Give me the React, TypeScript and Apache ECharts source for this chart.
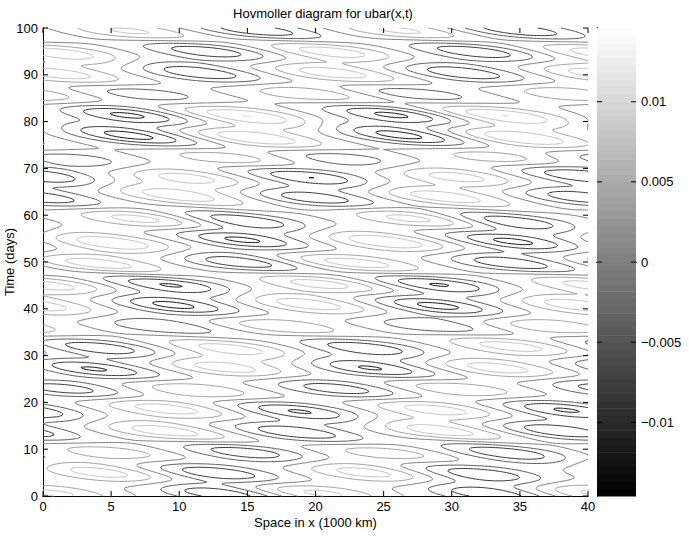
import React, { useEffect, useRef } from "react";
import * as echarts from "echarts";

// ---------- axes / ticks ----------
const xTicks = [0, 5, 10, 15, 20, 25, 30, 35, 40];
const timeTicks = [0, 10, 20, 30, 40, 50, 60, 70, 80, 90, 100];
const colorbarTicks = [-0.01, -0.005, 0, 0.005, 0.01];
const colorLimits = [-0.0146, 0.0146];
const contourLevels = [-0.012, -0.008, -0.004, 0, 0.004, 0.008, 0.012];

// ---------- extrema ----------
// negative centres (dark contours): x (1000 km), t (days), amplitude
const troughX = [17.5, 37.5, 15.5, 34.8, 12.0, 31.7, 11.5, 30.8, 7.5, 27.5, 6.2, 25.6, 6.4, 26.2, 2.5, 22.3, 19.5, 39.4, 20.0, 39.6, 15.0, 34.7, 14.5, 34.5, 14.2, 34.2, 9.4, 29.0, 9.5, 29.0, 8.5, 28.3, 4.4, 23.8, 3.8, 24.0, 1.6, 21.6, 18.8, 38.3, 18.7, 37.9, 15.0, 34.2, 13.0, 32.6, 13.0, 32.7, 11.0, 31.0];
const troughT = [104.0, 104.0, 99.6, 99.6, 95.1, 95.0, 90.4, 90.4, 85.9, 85.9, 81.4, 81.5, 77.0, 77.1, 71.8, 72.0, 68.2, 68.6, 63.6, 63.8, 58.7, 58.5, 54.8, 54.4, 50.0, 49.8, 45.1, 45.2, 40.8, 40.6, 36.3, 36.4, 31.6, 31.6, 27.1, 27.3, 22.9, 22.9, 18.1, 18.4, 13.5, 13.9, 9.3, 9.2, 4.8, 4.5, 0.5, 0.5, -3.9, -3.9];
const troughAmp = [-0.0105, -0.0105, -0.0118, -0.0118, -0.0118, -0.0118, -0.0118, -0.0118, -0.0075, -0.0075, -0.0135, -0.0135, -0.014, -0.014, -0.0078, -0.0078, -0.013, -0.013, -0.0118, -0.0118, -0.0118, -0.0118, -0.0135, -0.0135, -0.0118, -0.0118, -0.013, -0.013, -0.014, -0.014, -0.008, -0.008, -0.0118, -0.0118, -0.013, -0.013, -0.0115, -0.0115, -0.013, -0.013, -0.012, -0.012, -0.0118, -0.0118, -0.0125, -0.0125, -0.0118, -0.0118, -0.0105, -0.0105];

// positive centres (light contours)
const ridgeX = [8.0, 28.0, 6.5, 26.2, 1.3, 21.3, 1.0, 21.2, 19.3, 38.8, 14.9, 33.8, 15.5, 35.1, 13.5, 33.5, 10.5, 30.3, 9.7, 29.2, 7.1, 27.0, 5.3, 25.2, 4.0, 23.0, 0.5, 20.5, 19.4, 39.2, 17.5, 37.2, 14.0, 34.4, 13.2, 33.4, 11.3, 30.7, 8.8, 28.8, 9.0, 29.0, 5.0, 25.0, 4.2, 23.5, 0.3, 20.0, 1.0, 21.0];
const ridgeT = [104.0, 104.0, 99.2, 99.4, 94.6, 94.9, 90.2, 90.4, 85.9, 85.8, 81.2, 81.3, 76.5, 76.5, 72.1, 72.2, 68.0, 68.2, 64.3, 64.0, 59.2, 59.4, 54.0, 54.3, 49.6, 49.7, 45.0, 45.3, 41.0, 40.8, 36.3, 36.3, 31.4, 32.0, 27.5, 27.3, 22.6, 22.8, 18.8, 18.5, 13.8, 14.0, 9.3, 9.3, 5.0, 5.1, 0.8, 0.8, -3.9, -3.9];
const ridgeAmp = [0.0095, 0.0095, 0.0098, 0.0098, 0.0112, 0.0112, 0.0112, 0.0112, 0.0085, 0.0085, 0.0125, 0.0125, 0.0125, 0.0125, 0.008, 0.008, 0.0108, 0.0108, 0.0112, 0.0112, 0.0108, 0.0108, 0.0122, 0.0122, 0.0112, 0.0112, 0.0108, 0.0108, 0.0112, 0.0112, 0.0085, 0.0085, 0.0108, 0.0108, 0.0112, 0.0112, 0.0088, 0.0088, 0.0112, 0.0112, 0.0112, 0.0112, 0.0075, 0.0075, 0.0108, 0.0108, 0.01, 0.01, 0.0095, 0.0095];

// ---------- field reconstruction (shape of each extremum) ----------
const SIGMA_X = 3.7;
const SIGMA_T = 1.3;
const TILT = 0.33;
const PERIOD_X = 40;
const NX = 201;
const NT = 401;
const X0 = 0, X1 = 40, T0 = 0, T1 = 100;

function buildField(): Float64Array {
  const f = new Float64Array(NX * NT);
  const dx = (X1 - X0) / (NX - 1);
  const dt = (T1 - T0) / (NT - 1);
  const bx: number[] = [], bt: number[] = [], ba: number[] = [];
  troughX.forEach((x, k) => { bx.push(x); bt.push(troughT[k]); ba.push(troughAmp[k]); });
  ridgeX.forEach((x, k) => { bx.push(x); bt.push(ridgeT[k]); ba.push(ridgeAmp[k]); });
  const sx2 = 2 * SIGMA_X * SIGMA_X;
  const st2 = 2 * SIGMA_T * SIGMA_T;
  for (let b = 0; b < bx.length; b++) {
    for (let j = 0; j < NT; j++) {
      const t = T0 + j * dt;
      if (Math.abs(t - bt[b]) > 16) continue;
      for (let i = 0; i < NX; i++) {
        const x = X0 + i * dx;
        let ddx = x - bx[b];
        ddx = ((ddx + PERIOD_X / 2) % PERIOD_X + PERIOD_X) % PERIOD_X - PERIOD_X / 2;
        const tt = t - bt[b] + TILT * ddx;
        f[j * NX + i] += ba[b] * Math.exp(-(ddx * ddx) / sx2 - (tt * tt) / st2);
      }
    }
  }
  return f;
}

function contourLines(f: Float64Array, level: number): number[][][] {
  const dx = (X1 - X0) / (NX - 1);
  const dt = (T1 - T0) / (NT - 1);
  const H = NX * NT;
  const segA: number[] = [];
  const segB: number[] = [];
  const adj = new Map<number, number[]>();
  const add = (k1: number, k2: number) => {
    const s = segA.length;
    segA.push(k1); segB.push(k2);
    if (!adj.has(k1)) adj.set(k1, []);
    if (!adj.has(k2)) adj.set(k2, []);
    adj.get(k1)!.push(s); adj.get(k2)!.push(s);
  };
  for (let j = 0; j < NT - 1; j++) {
    for (let i = 0; i < NX - 1; i++) {
      const a = f[j * NX + i], b = f[j * NX + i + 1];
      const c = f[(j + 1) * NX + i + 1], d = f[(j + 1) * NX + i];
      const idx = (a > level ? 1 : 0) | (b > level ? 2 : 0) | (c > level ? 4 : 0) | (d > level ? 8 : 0);
      if (idx === 0 || idx === 15) continue;
      const B = j * NX + i;
      const T = (j + 1) * NX + i;
      const L = H + j * NX + i;
      const R = H + j * NX + i + 1;
      const cr: number[] = [];
      if ((a > level) !== (b > level)) cr.push(B);
      if ((b > level) !== (c > level)) cr.push(R);
      if ((d > level) !== (c > level)) cr.push(T);
      if ((a > level) !== (d > level)) cr.push(L);
      if (cr.length === 2) add(cr[0], cr[1]);
      else if (cr.length === 4) {
        const centre = (a + b + c + d) / 4;
        if ((centre > level) === (a > level)) { add(B, R); add(T, L); }
        else { add(B, L); add(R, T); }
      }
    }
  }
  const pt = (key: number): number[] => {
    if (key < H) {
      const j = Math.floor(key / NX), i = key % NX;
      const v0 = f[j * NX + i], v1 = f[j * NX + i + 1];
      const r = (level - v0) / (v1 - v0);
      return [X0 + (i + r) * dx, T0 + j * dt];
    }
    const k = key - H;
    const j = Math.floor(k / NX), i = k % NX;
    const v0 = f[j * NX + i], v1 = f[(j + 1) * NX + i];
    const r = (level - v0) / (v1 - v0);
    return [X0 + i * dx, T0 + (j + r) * dt];
  };
  const used = new Uint8Array(segA.length);
  const lines: number[][][] = [];
  const walk = (start: number): number[] => {
    const out: number[] = [];
    let cur = start;
    for (;;) {
      const list = adj.get(cur)!;
      let nx = -1;
      for (const q of list) if (!used[q]) { nx = q; break; }
      if (nx < 0) break;
      used[nx] = 1;
      const other = segA[nx] === cur ? segB[nx] : segA[nx];
      out.push(other);
      cur = other;
    }
    return out;
  };
  for (let s = 0; s < segA.length; s++) {
    if (used[s]) continue;
    used[s] = 1;
    const fwd = walk(segB[s]);
    const back = walk(segA[s]);
    const keys = back.reverse().concat([segA[s], segB[s]], fwd);
    lines.push(keys.map(pt));
  }
  return lines;
}

function grayOf(v: number): string {
  let g = (v - colorLimits[0]) / (colorLimits[1] - colorLimits[0]);
  g = Math.max(0, Math.min(1, g));
  const c = Math.round(g * 255);
  return `rgb(${c},${c},${c})`;
}

const FONT = "Liberation Sans";
const FS = 13;
const TICK_LEN = 5;

export default function App() {
  const ref = useRef<HTMLDivElement>(null);
  useEffect(() => {
    if (!ref.current) return;
    const chart = echarts.init(ref.current, null, { renderer: "svg" });
    const field = buildField();
    const lines = contourLevels.map((L) => contourLines(field, L));
    const nBands = 64;
    const bandIdx = Array.from({ length: nBands }, (_, k) => k);
    const bandStep = (colorLimits[1] - colorLimits[0]) / nBands;
    const cbFmt = (v: number) => (v === 0 ? "0" : v < 0 ? "\u2212" + String(Math.abs(v)) : String(v));
    const axisLineBlack = { show: true, lineStyle: { color: "#000", width: 1 } };
    const noTick = { show: false };
    const labelStyle = { color: "#000", fontSize: FS, fontFamily: FONT };
    const tickStyle = { stroke: "#000", lineWidth: 1 };

    chart.setOption({
      animation: false,
      backgroundColor: "#fff",
      textStyle: { fontFamily: FONT },
      title: {
        text: "Hovmoller diagram for ubar(x,t)",
        left: 318,
        top: 2,
        textAlign: "center",
        textStyle: { fontSize: FS, fontWeight: "normal", color: "#000", fontFamily: FONT },
      },
      grid: [
        { left: 43, top: 28, width: 545, height: 468, show: false, containLabel: false, outerBoundsMode: "none" },
        { left: 597, top: 28, width: 39, height: 468, show: false, containLabel: false, outerBoundsMode: "none" },
      ],
      xAxis: [
        {
          type: "value", gridIndex: 0, min: 0, max: 40, interval: 5, position: "bottom",
          axisLine: axisLineBlack, axisTick: noTick, splitLine: { show: false },
          axisLabel: { ...labelStyle, margin: 4, formatter: (v: number) => (xTicks.includes(v) ? String(v) : "") },
          name: "Space in x (1000 km)", nameLocation: "middle", nameGap: 20, nameMoveOverlap: false,
          nameTextStyle: { ...labelStyle },
        },
        {
          type: "value", gridIndex: 0, min: 0, max: 40, interval: 5, position: "top",
          axisLine: axisLineBlack, axisTick: noTick, splitLine: { show: false }, axisLabel: { show: false },
        },
        {
          type: "value", gridIndex: 1, min: 0, max: 1, position: "bottom",
          axisLine: axisLineBlack, axisTick: noTick, splitLine: { show: false }, axisLabel: { show: false },
        },
        {
          type: "value", gridIndex: 1, min: 0, max: 1, position: "top",
          axisLine: axisLineBlack, axisTick: noTick, splitLine: { show: false }, axisLabel: { show: false },
        },
      ],
      yAxis: [
        {
          type: "value", gridIndex: 0, min: 0, max: 100, interval: 10, position: "left",
          axisLine: axisLineBlack, axisTick: noTick, splitLine: { show: false },
          axisLabel: { ...labelStyle, margin: 5, formatter: (v: number) => (timeTicks.includes(v) ? String(v) : "") },
          name: "Time (days)", nameLocation: "middle", nameGap: 27, nameRotate: 90, nameMoveOverlap: false,
          nameTextStyle: { ...labelStyle },
        },
        {
          type: "value", gridIndex: 0, min: 0, max: 100, interval: 10, position: "right",
          axisLine: axisLineBlack, axisTick: noTick, splitLine: { show: false }, axisLabel: { show: false },
        },
        {
          type: "value", gridIndex: 1, min: colorLimits[0], max: colorLimits[1], position: "right",
          axisLine: axisLineBlack, axisTick: noTick, splitLine: { show: false },
          axisLabel: { ...labelStyle, margin: 5, customValues: colorbarTicks, formatter: cbFmt },
        },
        {
          type: "value", gridIndex: 1, min: colorLimits[0], max: colorLimits[1], position: "left",
          axisLine: axisLineBlack, axisTick: noTick, splitLine: { show: false }, axisLabel: { show: false },
        },
      ],
      series: [
        {
          type: "custom",
          xAxisIndex: 0,
          yAxisIndex: 0,
          silent: true,
          z: 3,
          data: contourLevels.map((L, i) => [20, 50, i]),
          encode: { x: 0, y: 1 },
          renderItem: (params: any, api: any) => {
            const li = api.value(2) as number;
            const stroke = grayOf(contourLevels[li]);
            return {
              type: "group",
              children: lines[li].map((ln) => ({
                type: "polyline",
                silent: true,
                shape: { points: ln.map((p) => api.coord(p)) },
                style: { stroke, fill: "none", lineWidth: 1 },
              })),
            };
          },
        },
        {
          // inward ticks on all four sides of the main axes
          type: "custom",
          xAxisIndex: 0,
          yAxisIndex: 0,
          silent: true,
          z: 4,
          data: [
            ...xTicks.map((v) => [v, 0, 0]),
            ...timeTicks.map((v) => [0, v, 1]),
          ],
          encode: { x: 0, y: 1 },
          renderItem: (params: any, api: any) => {
            const kind = api.value(2) as number;
            if (kind === 0) {
              const v = api.value(0) as number;
              const p = api.coord([v, 0]);
              const q = api.coord([v, 100]);
              return {
                type: "group",
                children: [
                  { type: "line", shape: { x1: p[0], y1: p[1], x2: p[0], y2: p[1] - TICK_LEN }, style: tickStyle },
                  { type: "line", shape: { x1: q[0], y1: q[1], x2: q[0], y2: q[1] + TICK_LEN }, style: tickStyle },
                ],
              };
            }
            const v = api.value(1) as number;
            const p = api.coord([0, v]);
            const q = api.coord([40, v]);
            return {
              type: "group",
              children: [
                { type: "line", shape: { x1: p[0], y1: p[1], x2: p[0] + TICK_LEN, y2: p[1] }, style: tickStyle },
                { type: "line", shape: { x1: q[0], y1: q[1], x2: q[0] - TICK_LEN, y2: q[1] }, style: tickStyle },
              ],
            };
          },
        },
        {
          type: "custom",
          xAxisIndex: 2,
          yAxisIndex: 2,
          silent: true,
          z: 1,
          data: bandIdx.map((k) => [0.5, colorLimits[0] + (k + 0.5) * bandStep, k]),
          encode: { x: 0, y: 1 },
          renderItem: (params: any, api: any) => {
            const k = api.value(2) as number;
            const v0 = colorLimits[0] + k * bandStep;
            const p0 = api.coord([0, v0]);
            const p1 = api.coord([1, v0 + bandStep]);
            return {
              type: "rect",
              shape: { x: p0[0], y: p1[1], width: p1[0] - p0[0], height: p0[1] - p1[1] + 0.6 },
              style: { fill: grayOf(v0 + bandStep / 2) },
            };
          },
        },
        {
          // inward ticks on both sides of the colour bar
          type: "custom",
          xAxisIndex: 2,
          yAxisIndex: 2,
          silent: true,
          z: 4,
          data: colorbarTicks.map((v) => [0.5, v]),
          encode: { x: 0, y: 1 },
          renderItem: (params: any, api: any) => {
            const v = api.value(1) as number;
            const p = api.coord([0, v]);
            const q = api.coord([1, v]);
            return {
              type: "group",
              children: [
                { type: "line", shape: { x1: p[0], y1: p[1], x2: p[0] + TICK_LEN, y2: p[1] }, style: tickStyle },
                { type: "line", shape: { x1: q[0], y1: q[1], x2: q[0] - TICK_LEN, y2: q[1] }, style: tickStyle },
              ],
            };
          },
        },
      ],
    });
    return () => chart.dispose();
  }, []);
  return <div ref={ref} style={{ position: "absolute", left: 0, top: 0, width: 689, height: 537 }} />;
}
